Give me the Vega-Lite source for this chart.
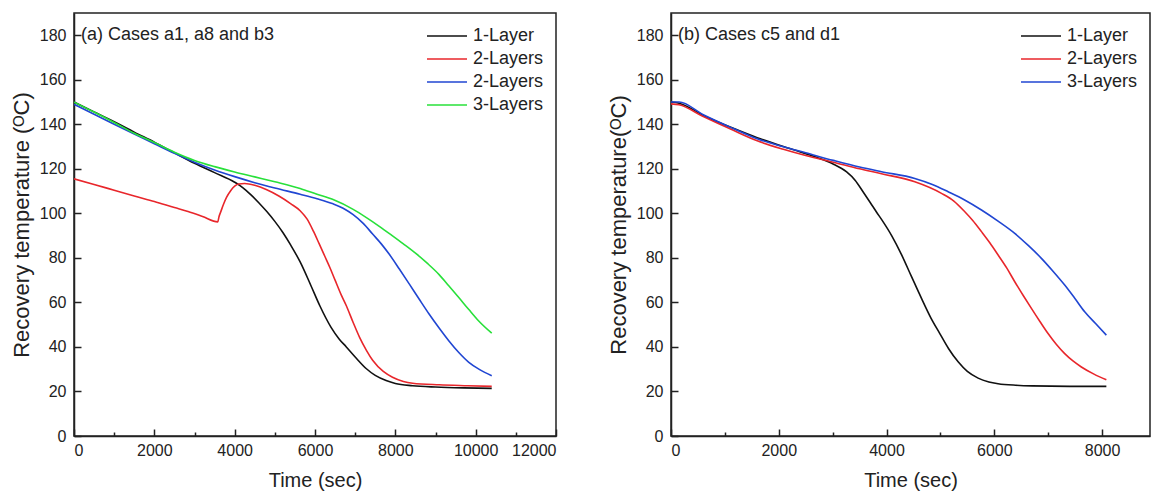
{
  "$schema": "https://vega.github.io/schema/vega-lite/v6.json",
  "padding": {"left": 9, "top": 12, "right": 0, "bottom": 0},
  "background": "white",
  "datasets": {
    "curves": [
      {"panel": "a", "curve": "1-Layer", "time": 0, "temp": 150},
      {"panel": "a", "curve": "1-Layer", "time": 500, "temp": 145.6},
      {"panel": "a", "curve": "1-Layer", "time": 1000, "temp": 141.2},
      {"panel": "a", "curve": "1-Layer", "time": 1500, "temp": 136.5},
      {"panel": "a", "curve": "1-Layer", "time": 2000, "temp": 132},
      {"panel": "a", "curve": "1-Layer", "time": 2500, "temp": 127.2},
      {"panel": "a", "curve": "1-Layer", "time": 3000, "temp": 122.5},
      {"panel": "a", "curve": "1-Layer", "time": 3500, "temp": 118.3},
      {"panel": "a", "curve": "1-Layer", "time": 4000, "temp": 114},
      {"panel": "a", "curve": "1-Layer", "time": 4200, "temp": 111.6},
      {"panel": "a", "curve": "1-Layer", "time": 4400, "temp": 108.4},
      {"panel": "a", "curve": "1-Layer", "time": 4600, "temp": 104.8},
      {"panel": "a", "curve": "1-Layer", "time": 4800, "temp": 100.8},
      {"panel": "a", "curve": "1-Layer", "time": 5000, "temp": 96.4},
      {"panel": "a", "curve": "1-Layer", "time": 5200, "temp": 91.4},
      {"panel": "a", "curve": "1-Layer", "time": 5400, "temp": 85.6},
      {"panel": "a", "curve": "1-Layer", "time": 5630, "temp": 78.2},
      {"panel": "a", "curve": "1-Layer", "time": 5900, "temp": 67.5},
      {"panel": "a", "curve": "1-Layer", "time": 6120, "temp": 58.5},
      {"panel": "a", "curve": "1-Layer", "time": 6400, "temp": 48.8},
      {"panel": "a", "curve": "1-Layer", "time": 6600, "temp": 43.6},
      {"panel": "a", "curve": "1-Layer", "time": 6780, "temp": 40},
      {"panel": "a", "curve": "1-Layer", "time": 7000, "temp": 35.5},
      {"panel": "a", "curve": "1-Layer", "time": 7280, "temp": 30.2},
      {"panel": "a", "curve": "1-Layer", "time": 7500, "temp": 27.2},
      {"panel": "a", "curve": "1-Layer", "time": 7770, "temp": 24.9},
      {"panel": "a", "curve": "1-Layer", "time": 8000, "temp": 23.6},
      {"panel": "a", "curve": "1-Layer", "time": 8430, "temp": 22.6},
      {"panel": "a", "curve": "1-Layer", "time": 9000, "temp": 22},
      {"panel": "a", "curve": "1-Layer", "time": 9700, "temp": 21.6},
      {"panel": "a", "curve": "1-Layer", "time": 10400, "temp": 21.4},

      {"panel": "a", "curve": "2-Layers (i)", "time": 0, "temp": 115.5},
      {"panel": "a", "curve": "2-Layers (i)", "time": 500, "temp": 113},
      {"panel": "a", "curve": "2-Layers (i)", "time": 1000, "temp": 110.4},
      {"panel": "a", "curve": "2-Layers (i)", "time": 1500, "temp": 107.8},
      {"panel": "a", "curve": "2-Layers (i)", "time": 2000, "temp": 105.3},
      {"panel": "a", "curve": "2-Layers (i)", "time": 2500, "temp": 102.6},
      {"panel": "a", "curve": "2-Layers (i)", "time": 2840, "temp": 100.8},
      {"panel": "a", "curve": "2-Layers (i)", "time": 3200, "temp": 98.6},
      {"panel": "a", "curve": "2-Layers (i)", "time": 3580, "temp": 96.2},
      {"panel": "a", "curve": "2-Layers (i)", "time": 3610, "temp": 98.5},
      {"panel": "a", "curve": "2-Layers (i)", "time": 3660, "temp": 101},
      {"panel": "a", "curve": "2-Layers (i)", "time": 3720, "temp": 104},
      {"panel": "a", "curve": "2-Layers (i)", "time": 3800, "temp": 107.3},
      {"panel": "a", "curve": "2-Layers (i)", "time": 3900, "temp": 110.2},
      {"panel": "a", "curve": "2-Layers (i)", "time": 4000, "temp": 112.2},
      {"panel": "a", "curve": "2-Layers (i)", "time": 4100, "temp": 113.2},
      {"panel": "a", "curve": "2-Layers (i)", "time": 4250, "temp": 113.4},
      {"panel": "a", "curve": "2-Layers (i)", "time": 4500, "temp": 112.6},
      {"panel": "a", "curve": "2-Layers (i)", "time": 4800, "temp": 110.6},
      {"panel": "a", "curve": "2-Layers (i)", "time": 5100, "temp": 107.8},
      {"panel": "a", "curve": "2-Layers (i)", "time": 5400, "temp": 104.3},
      {"panel": "a", "curve": "2-Layers (i)", "time": 5630, "temp": 101.2},
      {"panel": "a", "curve": "2-Layers (i)", "time": 5800, "temp": 97.5},
      {"panel": "a", "curve": "2-Layers (i)", "time": 5960, "temp": 92},
      {"panel": "a", "curve": "2-Layers (i)", "time": 6100, "temp": 86.5},
      {"panel": "a", "curve": "2-Layers (i)", "time": 6250, "temp": 80.5},
      {"panel": "a", "curve": "2-Layers (i)", "time": 6370, "temp": 75.7},
      {"panel": "a", "curve": "2-Layers (i)", "time": 6500, "temp": 70},
      {"panel": "a", "curve": "2-Layers (i)", "time": 6650, "temp": 63.5},
      {"panel": "a", "curve": "2-Layers (i)", "time": 6780, "temp": 58.5},
      {"panel": "a", "curve": "2-Layers (i)", "time": 6950, "temp": 51},
      {"panel": "a", "curve": "2-Layers (i)", "time": 7110, "temp": 44.3},
      {"panel": "a", "curve": "2-Layers (i)", "time": 7280, "temp": 38.5},
      {"panel": "a", "curve": "2-Layers (i)", "time": 7440, "temp": 33.9},
      {"panel": "a", "curve": "2-Layers (i)", "time": 7700, "temp": 29},
      {"panel": "a", "curve": "2-Layers (i)", "time": 7930, "temp": 26.4},
      {"panel": "a", "curve": "2-Layers (i)", "time": 8200, "temp": 24.5},
      {"panel": "a", "curve": "2-Layers (i)", "time": 8430, "temp": 23.7},
      {"panel": "a", "curve": "2-Layers (i)", "time": 9090, "temp": 23},
      {"panel": "a", "curve": "2-Layers (i)", "time": 9800, "temp": 22.6},
      {"panel": "a", "curve": "2-Layers (i)", "time": 10400, "temp": 22.3},

      {"panel": "a", "curve": "2-Layers (ii)", "time": 0, "temp": 149},
      {"panel": "a", "curve": "2-Layers (ii)", "time": 500, "temp": 144.5},
      {"panel": "a", "curve": "2-Layers (ii)", "time": 1000, "temp": 140},
      {"panel": "a", "curve": "2-Layers (ii)", "time": 1500, "temp": 135.6},
      {"panel": "a", "curve": "2-Layers (ii)", "time": 2000, "temp": 131.3},
      {"panel": "a", "curve": "2-Layers (ii)", "time": 2500, "temp": 127},
      {"panel": "a", "curve": "2-Layers (ii)", "time": 3000, "temp": 123},
      {"panel": "a", "curve": "2-Layers (ii)", "time": 3500, "temp": 119.5},
      {"panel": "a", "curve": "2-Layers (ii)", "time": 4000, "temp": 116.5},
      {"panel": "a", "curve": "2-Layers (ii)", "time": 4500, "temp": 113.8},
      {"panel": "a", "curve": "2-Layers (ii)", "time": 5000, "temp": 111.4},
      {"panel": "a", "curve": "2-Layers (ii)", "time": 5630, "temp": 108.6},
      {"panel": "a", "curve": "2-Layers (ii)", "time": 6050, "temp": 106.6},
      {"panel": "a", "curve": "2-Layers (ii)", "time": 6450, "temp": 104.3},
      {"panel": "a", "curve": "2-Layers (ii)", "time": 6700, "temp": 102.3},
      {"panel": "a", "curve": "2-Layers (ii)", "time": 6950, "temp": 99.4},
      {"panel": "a", "curve": "2-Layers (ii)", "time": 7200, "temp": 95.5},
      {"panel": "a", "curve": "2-Layers (ii)", "time": 7440, "temp": 90.6},
      {"panel": "a", "curve": "2-Layers (ii)", "time": 7650, "temp": 86.3},
      {"panel": "a", "curve": "2-Layers (ii)", "time": 7850, "temp": 81.6},
      {"panel": "a", "curve": "2-Layers (ii)", "time": 8100, "temp": 75},
      {"panel": "a", "curve": "2-Layers (ii)", "time": 8350, "temp": 68.2},
      {"panel": "a", "curve": "2-Layers (ii)", "time": 8600, "temp": 61.3},
      {"panel": "a", "curve": "2-Layers (ii)", "time": 8840, "temp": 54.8},
      {"panel": "a", "curve": "2-Layers (ii)", "time": 9090, "temp": 48.5},
      {"panel": "a", "curve": "2-Layers (ii)", "time": 9330, "temp": 42.8},
      {"panel": "a", "curve": "2-Layers (ii)", "time": 9580, "temp": 37.5},
      {"panel": "a", "curve": "2-Layers (ii)", "time": 9830, "temp": 33.1},
      {"panel": "a", "curve": "2-Layers (ii)", "time": 10100, "temp": 29.8},
      {"panel": "a", "curve": "2-Layers (ii)", "time": 10400, "temp": 27.1},

      {"panel": "a", "curve": "3-Layers", "time": 0, "temp": 150},
      {"panel": "a", "curve": "3-Layers", "time": 500, "temp": 145.5},
      {"panel": "a", "curve": "3-Layers", "time": 1000, "temp": 140.8},
      {"panel": "a", "curve": "3-Layers", "time": 1500, "temp": 136},
      {"panel": "a", "curve": "3-Layers", "time": 2000, "temp": 131.8},
      {"panel": "a", "curve": "3-Layers", "time": 2500, "temp": 127.5},
      {"panel": "a", "curve": "3-Layers", "time": 3000, "temp": 123.8},
      {"panel": "a", "curve": "3-Layers", "time": 3500, "temp": 121},
      {"panel": "a", "curve": "3-Layers", "time": 4000, "temp": 118.6},
      {"panel": "a", "curve": "3-Layers", "time": 4500, "temp": 116.4},
      {"panel": "a", "curve": "3-Layers", "time": 5000, "temp": 114.2},
      {"panel": "a", "curve": "3-Layers", "time": 5630, "temp": 111.2},
      {"panel": "a", "curve": "3-Layers", "time": 6050, "temp": 108.6},
      {"panel": "a", "curve": "3-Layers", "time": 6450, "temp": 106.2},
      {"panel": "a", "curve": "3-Layers", "time": 6950, "temp": 101.8},
      {"panel": "a", "curve": "3-Layers", "time": 7280, "temp": 98.1},
      {"panel": "a", "curve": "3-Layers", "time": 7600, "temp": 94.2},
      {"panel": "a", "curve": "3-Layers", "time": 7930, "temp": 89.9},
      {"panel": "a", "curve": "3-Layers", "time": 8200, "temp": 86.3},
      {"panel": "a", "curve": "3-Layers", "time": 8510, "temp": 82},
      {"panel": "a", "curve": "3-Layers", "time": 8800, "temp": 77.5},
      {"panel": "a", "curve": "3-Layers", "time": 9090, "temp": 72.5},
      {"panel": "a", "curve": "3-Layers", "time": 9330, "temp": 67.5},
      {"panel": "a", "curve": "3-Layers", "time": 9580, "temp": 62.2},
      {"panel": "a", "curve": "3-Layers", "time": 9830, "temp": 56.8},
      {"panel": "a", "curve": "3-Layers", "time": 10070, "temp": 51.8},
      {"panel": "a", "curve": "3-Layers", "time": 10400, "temp": 46.2},

      {"panel": "b", "curve": "1-Layer", "time": 0, "temp": 150},
      {"panel": "b", "curve": "1-Layer", "time": 150, "temp": 149.5},
      {"panel": "b", "curve": "1-Layer", "time": 600, "temp": 144},
      {"panel": "b", "curve": "1-Layer", "time": 1157, "temp": 138.2},
      {"panel": "b", "curve": "1-Layer", "time": 1600, "temp": 134},
      {"panel": "b", "curve": "1-Layer", "time": 2085, "temp": 130},
      {"panel": "b", "curve": "1-Layer", "time": 2400, "temp": 127.6},
      {"panel": "b", "curve": "1-Layer", "time": 2700, "temp": 125.2},
      {"panel": "b", "curve": "1-Layer", "time": 3000, "temp": 122.3},
      {"panel": "b", "curve": "1-Layer", "time": 3260, "temp": 118.6},
      {"panel": "b", "curve": "1-Layer", "time": 3420, "temp": 114.8},
      {"panel": "b", "curve": "1-Layer", "time": 3570, "temp": 109.5},
      {"panel": "b", "curve": "1-Layer", "time": 3700, "temp": 104.8},
      {"panel": "b", "curve": "1-Layer", "time": 3816, "temp": 100.5},
      {"panel": "b", "curve": "1-Layer", "time": 3907, "temp": 97.3},
      {"panel": "b", "curve": "1-Layer", "time": 4100, "temp": 89.8},
      {"panel": "b", "curve": "1-Layer", "time": 4278, "temp": 81.5},
      {"panel": "b", "curve": "1-Layer", "time": 4460, "temp": 71.8},
      {"panel": "b", "curve": "1-Layer", "time": 4649, "temp": 61.8},
      {"panel": "b", "curve": "1-Layer", "time": 4820, "temp": 53.2},
      {"panel": "b", "curve": "1-Layer", "time": 4989, "temp": 46},
      {"panel": "b", "curve": "1-Layer", "time": 5150, "temp": 39.3},
      {"panel": "b", "curve": "1-Layer", "time": 5329, "temp": 33.3},
      {"panel": "b", "curve": "1-Layer", "time": 5500, "temp": 29},
      {"panel": "b", "curve": "1-Layer", "time": 5700, "temp": 26},
      {"panel": "b", "curve": "1-Layer", "time": 5900, "temp": 24.3},
      {"panel": "b", "curve": "1-Layer", "time": 6071, "temp": 23.5},
      {"panel": "b", "curve": "1-Layer", "time": 6400, "temp": 22.8},
      {"panel": "b", "curve": "1-Layer", "time": 6700, "temp": 22.5},
      {"panel": "b", "curve": "1-Layer", "time": 7400, "temp": 22.3},
      {"panel": "b", "curve": "1-Layer", "time": 8080, "temp": 22.3},

      {"panel": "b", "curve": "2-Layers", "time": 0, "temp": 149.2},
      {"panel": "b", "curve": "2-Layers", "time": 150, "temp": 148.8},
      {"panel": "b", "curve": "2-Layers", "time": 600, "temp": 143.5},
      {"panel": "b", "curve": "2-Layers", "time": 1157, "temp": 137.3},
      {"panel": "b", "curve": "2-Layers", "time": 1600, "temp": 132.6},
      {"panel": "b", "curve": "2-Layers", "time": 2085, "temp": 128.8},
      {"panel": "b", "curve": "2-Layers", "time": 2500, "temp": 126},
      {"panel": "b", "curve": "2-Layers", "time": 3013, "temp": 123},
      {"panel": "b", "curve": "2-Layers", "time": 3500, "temp": 120},
      {"panel": "b", "curve": "2-Layers", "time": 3907, "temp": 117.8},
      {"panel": "b", "curve": "2-Layers", "time": 4525, "temp": 114.2},
      {"panel": "b", "curve": "2-Layers", "time": 5020, "temp": 109},
      {"panel": "b", "curve": "2-Layers", "time": 5250, "temp": 105.5},
      {"panel": "b", "curve": "2-Layers", "time": 5453, "temp": 100.7},
      {"panel": "b", "curve": "2-Layers", "time": 5600, "temp": 96.8},
      {"panel": "b", "curve": "2-Layers", "time": 5762, "temp": 91.8},
      {"panel": "b", "curve": "2-Layers", "time": 5920, "temp": 86.7},
      {"panel": "b", "curve": "2-Layers", "time": 6071, "temp": 81.3},
      {"panel": "b", "curve": "2-Layers", "time": 6230, "temp": 75.5},
      {"panel": "b", "curve": "2-Layers", "time": 6380, "temp": 69.3},
      {"panel": "b", "curve": "2-Layers", "time": 6540, "temp": 63},
      {"panel": "b", "curve": "2-Layers", "time": 6689, "temp": 57.3},
      {"panel": "b", "curve": "2-Layers", "time": 6850, "temp": 51.3},
      {"panel": "b", "curve": "2-Layers", "time": 6998, "temp": 46},
      {"panel": "b", "curve": "2-Layers", "time": 7150, "temp": 41.2},
      {"panel": "b", "curve": "2-Layers", "time": 7307, "temp": 37},
      {"panel": "b", "curve": "2-Layers", "time": 7460, "temp": 33.7},
      {"panel": "b", "curve": "2-Layers", "time": 7616, "temp": 31},
      {"panel": "b", "curve": "2-Layers", "time": 7850, "temp": 27.8},
      {"panel": "b", "curve": "2-Layers", "time": 8080, "temp": 25.3},

      {"panel": "b", "curve": "3-Layers", "time": 0, "temp": 150},
      {"panel": "b", "curve": "3-Layers", "time": 150, "temp": 150},
      {"panel": "b", "curve": "3-Layers", "time": 600, "temp": 144.3},
      {"panel": "b", "curve": "3-Layers", "time": 1157, "temp": 138.1},
      {"panel": "b", "curve": "3-Layers", "time": 1600, "temp": 133.5},
      {"panel": "b", "curve": "3-Layers", "time": 2085, "temp": 129.9},
      {"panel": "b", "curve": "3-Layers", "time": 2500, "temp": 127.2},
      {"panel": "b", "curve": "3-Layers", "time": 3013, "temp": 123.8},
      {"panel": "b", "curve": "3-Layers", "time": 3500, "temp": 120.8},
      {"panel": "b", "curve": "3-Layers", "time": 3907, "temp": 118.7},
      {"panel": "b", "curve": "3-Layers", "time": 4525, "temp": 115.7},
      {"panel": "b", "curve": "3-Layers", "time": 4850, "temp": 113},
      {"panel": "b", "curve": "3-Layers", "time": 5144, "temp": 109.7},
      {"panel": "b", "curve": "3-Layers", "time": 5450, "temp": 106},
      {"panel": "b", "curve": "3-Layers", "time": 5762, "temp": 101.5},
      {"panel": "b", "curve": "3-Layers", "time": 6070, "temp": 96.5},
      {"panel": "b", "curve": "3-Layers", "time": 6380, "temp": 91},
      {"panel": "b", "curve": "3-Layers", "time": 6630, "temp": 85.6},
      {"panel": "b", "curve": "3-Layers", "time": 6875, "temp": 79.8},
      {"panel": "b", "curve": "3-Layers", "time": 7090, "temp": 74},
      {"panel": "b", "curve": "3-Layers", "time": 7307, "temp": 67.8},
      {"panel": "b", "curve": "3-Layers", "time": 7490, "temp": 62},
      {"panel": "b", "curve": "3-Layers", "time": 7678, "temp": 55.8},
      {"panel": "b", "curve": "3-Layers", "time": 7880, "temp": 50.5},
      {"panel": "b", "curve": "3-Layers", "time": 8080, "temp": 45.3}
    ]
  },
  "spacing": 48,
  "resolve": {"scale": {"color": "independent", "x": "independent", "y": "independent"}},
  "hconcat": [
    {
      "width": 482,
      "height": 423,
      "layer": [
        {
          "data": {"name": "curves"},
          "transform": [{"filter": "datum.panel === 'a'"}],
          "mark": {"type": "line", "strokeWidth": 1.6, "interpolate": "monotone", "clip": true},
          "encoding": {
            "x": {
              "field": "time", "type": "quantitative",
              "scale": {"domain": [0, 12000], "nice": false},
              "axis": {
                "title": "Time (sec)",
                "values": [0, 1000, 2000, 3000, 4000, 5000, 6000, 7000, 8000, 9000, 10000, 11000, 12000],
                "labelExpr": "datum.value % 2000 === 0 ? datum.label : ''",
                "format": "d",
                "tickSize": {"condition": {"test": "datum.value % 2000 === 0", "value": -7}, "value": -4}
              }
            },
            "y": {
              "field": "temp", "type": "quantitative",
              "scale": {"domain": [0, 190], "nice": false},
              "axis": {
                "title": "Recovery temperature (ᴼC)",
                "values": [0, 10, 20, 30, 40, 50, 60, 70, 80, 90, 100, 110, 120, 130, 140, 150, 160, 170, 180],
                "labelExpr": "datum.value % 20 === 0 ? datum.label : ''",
                "tickSize": {"condition": {"test": "datum.value % 20 === 0", "value": -7}, "value": -4}
              }
            },
            "color": {
              "field": "curve", "type": "nominal",
              "scale": {
                "domain": ["1-Layer", "2-Layers (i)", "2-Layers (ii)", "3-Layers"],
                "range": ["#111111", "#e8262b", "#2046d2", "#28e03a"]
              },
              "legend": {
                "orient": "top-right", "offset": 12, "title": null,
                "labelExpr": "split(datum.label, ' ')[0]"
              }
            }
          }
        },
        {
          "data": {"values": [{"note": "(a) Cases a1, a8 and b3"}]},
          "mark": {"type": "text", "align": "left", "baseline": "middle", "fontSize": 18, "color": "#222", "dx": 7},
          "encoding": {
            "x": {"datum": 0, "type": "quantitative"},
            "y": {"datum": 180, "type": "quantitative"},
            "text": {"field": "note"}
          }
        }
      ]
    },
    {
      "width": 479,
      "height": 423,
      "layer": [
        {
          "data": {"name": "curves"},
          "transform": [{"filter": "datum.panel === 'b'"}],
          "mark": {"type": "line", "strokeWidth": 1.6, "interpolate": "monotone", "clip": true},
          "encoding": {
            "x": {
              "field": "time", "type": "quantitative",
              "scale": {"domain": [0, 8890], "nice": false},
              "axis": {
                "title": "Time (sec)",
                "values": [0, 1000, 2000, 3000, 4000, 5000, 6000, 7000, 8000],
                "labelExpr": "datum.value % 2000 === 0 ? datum.label : ''",
                "format": "d",
                "tickSize": {"condition": {"test": "datum.value % 2000 === 0", "value": -7}, "value": -4}
              }
            },
            "y": {
              "field": "temp", "type": "quantitative",
              "scale": {"domain": [0, 190], "nice": false},
              "axis": {
                "title": "Recovery temperature(ᴼC)",
                "values": [0, 10, 20, 30, 40, 50, 60, 70, 80, 90, 100, 110, 120, 130, 140, 150, 160, 170, 180],
                "labelExpr": "datum.value % 20 === 0 ? datum.label : ''",
                "tickSize": {"condition": {"test": "datum.value % 20 === 0", "value": -7}, "value": -4}
              }
            },
            "color": {
              "field": "curve", "type": "nominal",
              "scale": {
                "domain": ["1-Layer", "2-Layers", "3-Layers"],
                "range": ["#111111", "#e8262b", "#2046d2"]
              },
              "legend": {"orient": "top-right", "offset": 12, "title": null}
            }
          }
        },
        {
          "data": {"values": [{"note": "(b) Cases c5 and d1"}]},
          "mark": {"type": "text", "align": "left", "baseline": "middle", "fontSize": 18, "color": "#222", "dx": 7},
          "encoding": {
            "x": {"datum": 0, "type": "quantitative"},
            "y": {"datum": 180, "type": "quantitative"},
            "text": {"field": "note"}
          }
        }
      ]
    }
  ],
  "config": {
    "font": "Liberation Sans",
    "view": {"stroke": "#222", "strokeWidth": 1.5},
    "axis": {
      "grid": false,
      "domainColor": "#222",
      "domainWidth": 1.5,
      "tickColor": "#222",
      "tickWidth": 1.5,
      "labelFont": "Liberation Sans",
      "labelFontSize": 16,
      "labelColor": "#222",
      "titleFont": "Liberation Sans",
      "titleFontSize": 20,
      "titleFontWeight": "normal",
      "titleColor": "#222"
    },
    "axisY": {"labelPadding": 15, "titlePadding": 6, "titleFontSize": 22},
    "axisX": {"labelPadding": 13, "titlePadding": 12},
    "legend": {
      "symbolType": "M-2,0H2",
      "symbolSize": 400,
      "symbolStrokeWidth": 1.6,
      "labelFont": "Liberation Sans",
      "labelFontSize": 18,
      "labelColor": "#222",
      "labelOffset": 15,
      "rowPadding": 3,
      "padding": 0
    }
  }
}
